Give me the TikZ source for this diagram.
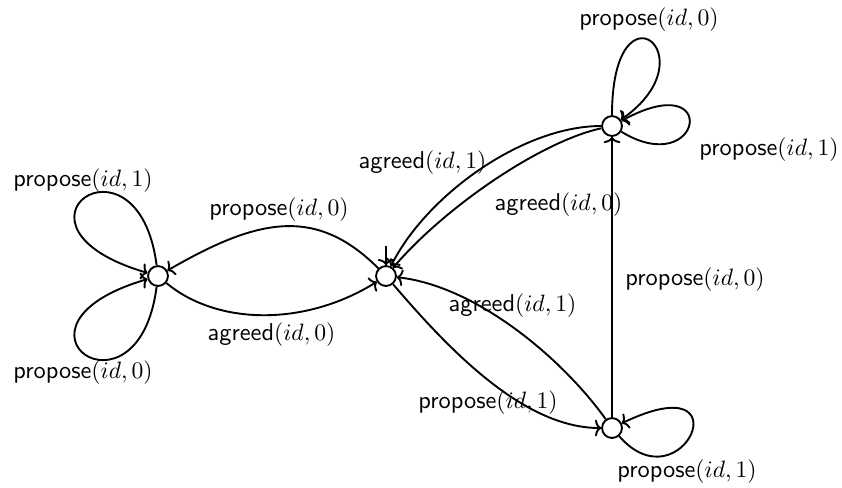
\documentclass[tikz,border=0pt]{standalone}
\usetikzlibrary{arrows.meta}
\begin{document}
\begin{tikzpicture}[x=0.4228pt,y=-0.4228pt,
  state/.style={circle,draw,line width=0.8pt,minimum size=8.4pt,inner sep=0pt},
  edge/.style={-{To[length=2.6pt,width=7pt]},line width=0.8pt},
  lbl/.style={inner sep=0pt,anchor=base,font=\fontsize{10.3pt}{12pt}\selectfont}]
\useasboundingbox (0,0) rectangle (842,487);
\node[state] (q0) at (158,276) {};
\node[state] (q1) at (386,276) {};
\node[state] (q2) at (612,126) {};
\node[state] (q3) at (612,428) {};
\coordinate (init) at (386,246);
\draw[edge] (init) -- (q1);
% loops on q0
\draw[edge] (q0) .. controls +(-20,-155) and +(-170,-50) .. (q0);
\draw[edge] (q0) .. controls +(-20,155) and +(-170,50) .. (q0);
% q1 <-> q0
\draw[edge] (q1) .. controls +(-70,-70) and +(100,-58) .. (q0);
\draw[edge] (q0) .. controls +(60,50) and +(-80,50) .. (q1);
% q2 -> q1
\draw[edge] (q2) .. controls +(-90,0) and +(40,-80) .. (q1);
\draw[edge] (q2) .. controls +(-70,15) and +(60,-70) .. (q1);
% loops on q2
\draw[edge] (q2) .. controls +(0,-150) and +(100,-70) .. (q2);
\draw[edge] (q2) .. controls +(90,55) and +(110,-60) .. (q2);
% q3 -> q2
\draw[edge] (q3) -- (q2);
% q1 <-> q3
\draw[edge] (q1) .. controls +(60,70) and +(-90,0) .. (q3);
\draw[edge] (q3) .. controls +(-50,-70) and +(90,10) .. (q1);
% loop on q3
\draw[edge] (q3) .. controls +(70,80) and +(135,-65) .. (q3);
% labels
\node[lbl] (l1) at (83,186) {\textsf{propose}$(id,1)$};
\node[lbl] (l2) at (83,378) {\textsf{propose}$(id,0)$};
\node[lbl] (l3) at (279,215) {\textsf{propose}$(id,0)$};
\node[lbl] (l4) at (271.5,340) {\textsf{agreed}$(id,0)$};
\node[lbl] (l5) at (649,25) {\textsf{propose}$(id,0)$};
\node[lbl] (l6) at (769,155) {\textsf{propose}$(id,1)$};
\node[lbl] (l7) at (422.5,168) {\textsf{agreed}$(id,1)$};
\node[lbl] (l8) at (558.5,210) {\textsf{agreed}$(id,0)$};
\node[lbl] (l9) at (695,285) {\textsf{propose}$(id,0)$};
\node[lbl] (l10) at (512.5,311) {\textsf{agreed}$(id,1)$};
\node[lbl] (l11) at (488,408) {\textsf{propose}$(id,1)$};
\node[lbl] (l12) at (687,477) {\textsf{propose}$(id,1)$};
\end{tikzpicture}
\end{document}
